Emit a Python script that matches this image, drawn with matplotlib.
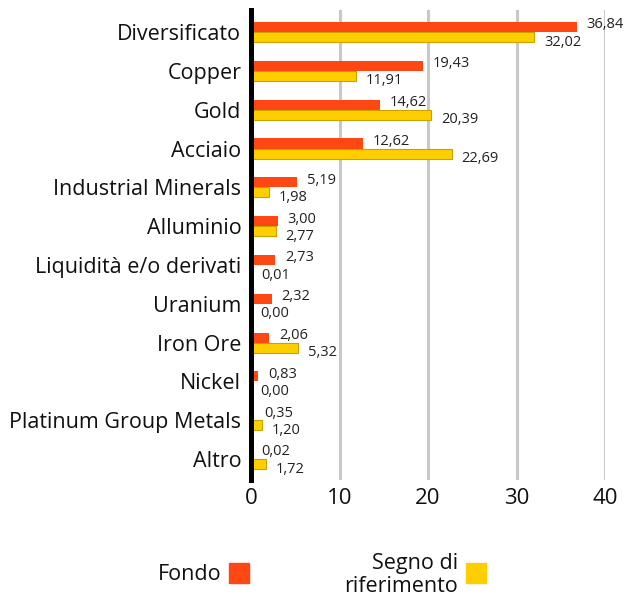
import matplotlib
matplotlib.use("Agg")
import matplotlib.pyplot as plt
import numpy as np

categories = ["Diversificato", "Copper", "Gold", "Acciaio", "Industrial Minerals",
              "Alluminio", "Liquidità e/o derivati", "Uranium", "Iron Ore", "Nickel",
              "Platinum Group Metals", "Altro"]
fondo = [36.84, 19.43, 14.62, 12.62, 5.19, 3.00, 2.73, 2.32, 2.06, 0.83, 0.35, 0.02]
benchmark = [32.02, 11.91, 20.39, 22.69, 1.98, 2.77, 0.01, 0.00, 5.32, 0.00, 1.20, 1.72]
xticks = [0, 10, 20, 30, 40]
series_names = ["Fondo", "Segno di\nriferimento"]

RED = "#ff4713"
YELLOW = "#ffce00"
YELLOW_EDGE = "#c9a200"
TEXT = "#111111"

plt.rcParams['font.family'] = ['Open Sans', 'DejaVu Sans']

W, H = 624, 601
fig = plt.figure(figsize=(W / 100, H / 100), dpi=100)
ax = fig.add_axes([251 / W, 1 - 480 / H, (605 - 251) / W, 470 / H])

n = len(categories)
y = np.arange(n)
h = 0.26
ax.barh(y - h / 2, fondo, height=h, color=RED, zorder=3)
ax.barh(y + h / 2, benchmark, height=h, color=YELLOW, edgecolor=YELLOW_EDGE,
        linewidth=0.8, zorder=3)

def fmt(v):
    return f"{v:.2f}".replace(".", ",")

for yi, v in zip(y, fondo):
    ax.annotate(fmt(v), (v, yi - h / 2), xytext=(7, 1.5), textcoords="offset points",
                ha="left", va="center", fontsize=10.5, color="#222222")
for yi, v in zip(y, benchmark):
    ax.annotate(fmt(v), (v, yi + h / 2), xytext=(7, -3.6), textcoords="offset points",
                ha="left", va="center", fontsize=10.5, color="#222222")

ax.set_ylim(n - 0.46, -0.57)
ax.set_xlim(0, 40)
ax.set_yticks(y)
ax.set_yticklabels(categories, fontsize=15.5, color=TEXT)
ax.set_xticks(xticks)
ax.set_xticklabels([str(t) for t in xticks], fontsize=16, color=TEXT)
ax.tick_params(axis="both", length=0)
ax.tick_params(axis="y", pad=7)
ax.tick_params(axis="x", pad=6)

for s in ["top", "right", "bottom"]:
    ax.spines[s].set_visible(False)
ax.spines["left"].set_linewidth(3.6)
ax.spines["left"].set_color("black")
ax.spines["left"].set_zorder(5)

ax.xaxis.grid(True, color="#c8c8c8", linewidth=2.2, zorder=0)
ax.set_axisbelow(True)

# legend
fig.text(221 / W, 1 - 575 / H, series_names[0], ha="right", va="center",
         fontsize=15.5, color=TEXT)
fig.add_artist(plt.Rectangle((229 / W, 1 - 583 / H), 20 / W, 20 / H,
                             transform=fig.transFigure, color=RED))
fig.text(458 / W, 1 - 575 / H, series_names[1], ha="right", va="center",
         fontsize=15.5, color=TEXT, linespacing=1.15)
fig.add_artist(plt.Rectangle((466 / W, 1 - 583 / H), 20 / W, 20 / H,
                             transform=fig.transFigure, color=YELLOW))

fig.savefig("out.png", dpi=100)
